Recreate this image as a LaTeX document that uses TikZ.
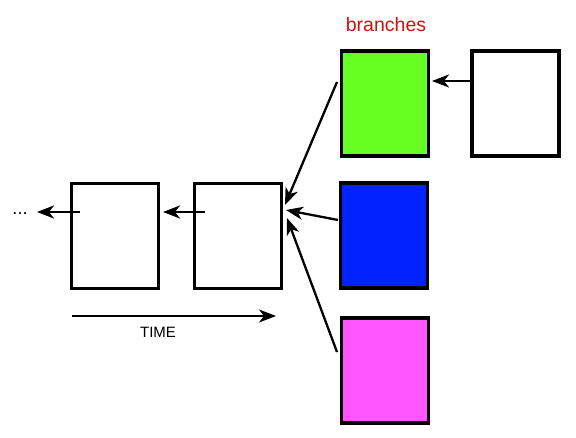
\documentclass[tikz,border=0pt]{standalone}
\usepackage{fontspec}
\setmainfont{Liberation Sans}
\usetikzlibrary{arrows.meta,calc}
\definecolor{brred}{HTML}{CC1111}
\definecolor{brgreen}{HTML}{66FF22}
\definecolor{brblue}{HTML}{0022FF}
\definecolor{brmag}{HTML}{FF55FF}
\begin{document}
\begin{tikzpicture}[x=1pt,y=1pt,
  commit/.style={draw=black,line width=3.5pt,minimum width=87pt,minimum height=105pt,inner sep=0pt,fill=white},
  link/.style={line width=2.3pt,-{Stealth[length=17pt,width=13pt,inset=5pt]}}]
\useasboundingbox (0,0) rectangle (576,437);
\node[commit] (a) at (115,201) {};
\node[commit] (b) at (238,201) {};
\node[commit,fill=brgreen] (g) at (385,333.5) {};
\node[commit] (w) at (515.5,333.5) {};
\node[commit,fill=brblue] (bl) at (384,201.5) {};
\node[commit,fill=brmag] (m) at (385,66.5) {};
\node[text=brred,font=\fontsize{19.5pt}{22pt}\selectfont] (lbl) at (386,412) {branches};
\node[font=\fontsize{18pt}{20pt}\selectfont] (dots) at (20,223) {...};
\node[font=\fontsize{15pt}{17pt}\selectfont] (time) at (158,105) {TIME};
\coordinate (as) at (80,225);
\coordinate (ae) at (37,225);
\coordinate (bs) at (205,225);
\coordinate (be) at (163,225);
\coordinate (ws) at (470,356);
\coordinate (we) at (432,356);
\coordinate (gs) at (337,355);
\coordinate (ge) at (285,232);
\coordinate (bls) at (338,217);
\coordinate (ble) at (286,227);
\coordinate (ms) at (337,85);
\coordinate (me) at (287,219);
\coordinate (ts) at (72,121);
\coordinate (te) at (276,121);
\draw[link] (as) -- (ae);
\draw[link] (bs) -- (be);
\draw[link] (ws) -- (we);
\draw[link] (gs) -- (ge);
\draw[link] (bls) -- (ble);
\draw[link] (ms) -- (me);
\draw[link] (ts) -- (te);
\end{tikzpicture}
\end{document}
